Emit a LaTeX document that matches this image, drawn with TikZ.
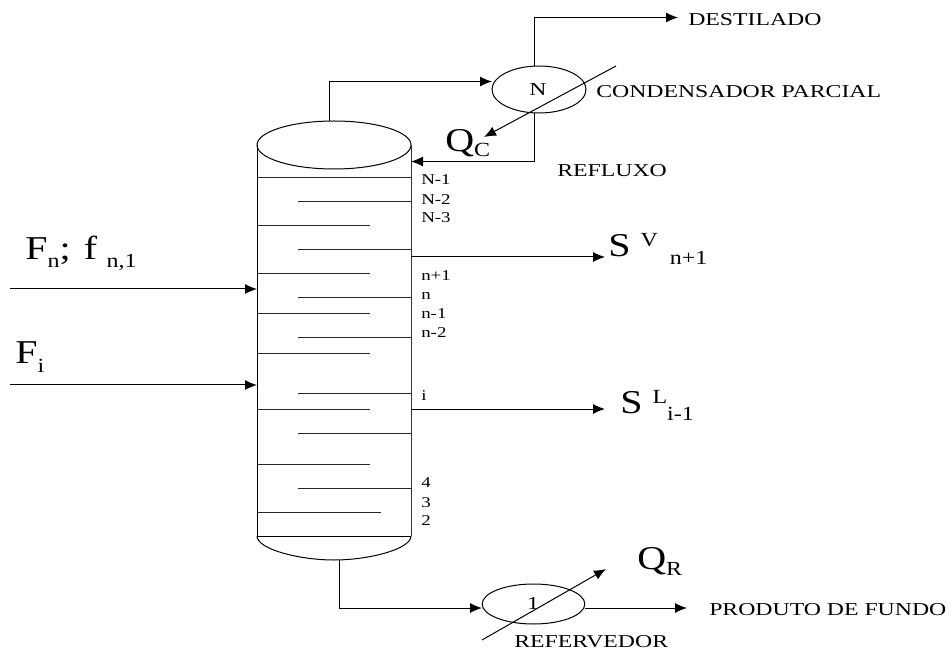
\documentclass[tikz,border=0pt]{standalone}
\usepackage{fontspec}
\setmainfont{Liberation Serif}
\usetikzlibrary{arrows.meta,shapes.geometric}
\newcommand{\subb}[2]{{\fontsize{15}{15}\selectfont\raisebox{#1}{#2}}}
\newcommand{\wtag}[1]{\scalebox{1.31}[1]{#1}}
\newcommand{\wplate}[1]{\scalebox{1.26}[1]{#1}}
\newcommand{\wbig}[1]{\scalebox{1.2}[1]{#1}}
\tikzset{
  x=0.75pt,y=-0.75pt,
  line/.style={draw=black,line width=0.75pt},
  flow/.style={line,-{Latex[length=9pt,width=7.5pt]}},
  tray/.style={draw=black!85,line width=0.7pt},
  exch/.style={ellipse,draw=black,line width=0.75pt,inner sep=0pt},
  tag/.style={inner sep=0pt,anchor=west,font=\fontsize{13.6}{14}\selectfont},
  plate/.style={inner sep=0pt,anchor=west,font=\fontsize{11.25}{12}\selectfont},
  big/.style={inner sep=0pt,anchor=base west,font=\fontsize{25}{27}\selectfont},
}
\begin{document}
\begin{tikzpicture}
\useasboundingbox (0,0) rectangle (952,655);
% column
\node[exch,minimum width=115.5pt,minimum height=36pt] (top) at (334,145) {};
\coordinate (botL) at (257,536);
\coordinate (botR) at (411,536);
\coordinate (colL) at (257,145);
\coordinate (colR) at (411,145);
\draw[line] (colL) -- (botL);
\draw[line,black!80] (colR) -- (botR);
\draw[line] (botL) -- (botR);
\draw[line] (botL) .. controls (257,549.25) and (299.5,560) .. (334,560) .. controls (368.5,560) and (411,549.25) .. (botR);
\coordinate (sump) at (339,560);
\coordinate (vapor) at (329,121);
% trays
\draw[tray] (257,177) -- (411,177);
\foreach \y in {201,249,297,337,393,433,488} \draw[tray] (298,\y) -- (411,\y);
\foreach \y in {225,273,313,353,409,464} \draw[tray] (257,\y) -- (370,\y);
\draw[tray] (257,512) -- (381,512);
% plate labels
\node[plate] (pa) at (421,180) {\wplate{N-1}};
\node[plate] (pb) at (421,199.5) {\wplate{N-2}};
\node[plate] (pc) at (421,218) {\wplate{N-3}};
\node[plate] (pd) at (421,276) {\wplate{n+1}};
\node[plate] (pe) at (421,296) {\wplate{n}};
\node[plate] (pf) at (421,314) {\wplate{n-1}};
\node[plate] (pg) at (421,333) {\wplate{n-2}};
\node[plate] (ph) at (421,396) {\wplate{i}};
\node[plate] (pi) at (421,483) {\wplate{4}};
\node[plate] (pj) at (421,503) {\wplate{3}};
\node[plate] (pk) at (421,521) {\wplate{2}};
% condenser
\node[exch,minimum width=70.5pt,minimum height=35.25pt] (cond) at (539,89.5) {};
\node[inner sep=0pt,font=\fontsize{13.6}{14}\selectfont] (condN) at (538,90) {\wtag{N}};
\coordinate (condIn) at (492,81.5);
\coordinate (condTop) at (534,66);
\coordinate (condBot) at (534,113);
\coordinate (distEnd) at (678,17.5);
\draw[flow] (vapor) |- (condIn);
\draw[flow] (condTop) |- (distEnd);
\coordinate (refl) at (411,161.5);
\draw[flow] (condBot) |- (refl);
\coordinate (qcA) at (616,66);
\coordinate (qcB) at (484,137);
\draw[flow] (qcA) -- (qcB);
% reboiler
\node[exch,minimum width=77pt,minimum height=30pt] (reb) at (533.5,604) {};
\node[inner sep=0pt,font=\fontsize{13.6}{14}\selectfont] (rebN) at (533,604) {\wtag{1}};
\coordinate (rebIn) at (482,608);
\coordinate (rebOut) at (585,608);
\coordinate (prodEnd) at (687,608);
\draw[flow] (sump) |- (rebIn);
\draw[flow] (rebOut) -- (prodEnd);
\coordinate (qrA) at (482,640);
\coordinate (qrB) at (606,569);
\draw[flow] (qrA) -- (qrB);
% feeds and side draws
\coordinate (f1a) at (10,289);
\coordinate (f1b) at (257,289);
\coordinate (f2a) at (10,385);
\coordinate (f2b) at (257,385);
\draw[flow] (f1a) -- (f1b);
\draw[flow] (f2a) -- (f2b);
\coordinate (s1a) at (411,257);
\coordinate (s1b) at (605,257);
\coordinate (s2a) at (411,409);
\coordinate (s2b) at (605,409);
\draw[flow] (s1a) -- (s1b);
\draw[flow] (s2a) -- (s2b);
% texts
\node[tag] (t1) at (688,19.5) {\wtag{DESTILADO}};
\node[tag] (t2) at (596,91.5) {\wtag{CONDENSADOR PARCIAL}};
\node[tag] (t3) at (557,170.5) {\wtag{REFLUXO}};
\node[tag] (t4) at (709,610) {\wtag{PRODUTO DE FUNDO}};
\node[tag] (t5) at (514,641.5) {\wtag{REFERVEDOR}};
\node[big] (qc) at (445,152) {\wbig{Q\subb{-3.75pt}{C}}};
\node[big] (qr) at (637,569) {\wbig{Q\subb{-5pt}{R}}};
\node[big] (fn) at (25,260) {\wbig{F\subb{-6pt}{n}; \hspace{2pt}f\hspace{6pt}\subb{-6pt}{n,1}}};
\node[big] (fi) at (15,364) {\wbig{F\subb{-6pt}{i}}};
\node[big] (sv) at (608,257) {\wbig{S \subb{7.5pt}{V}\hspace{7.5pt}\subb{-6pt}{n+1}}};
\node[big] (sl) at (620,413) {\wbig{S \subb{7.5pt}{L}\subb{-5.5pt}{i-1}}};
\end{tikzpicture}
\end{document}
